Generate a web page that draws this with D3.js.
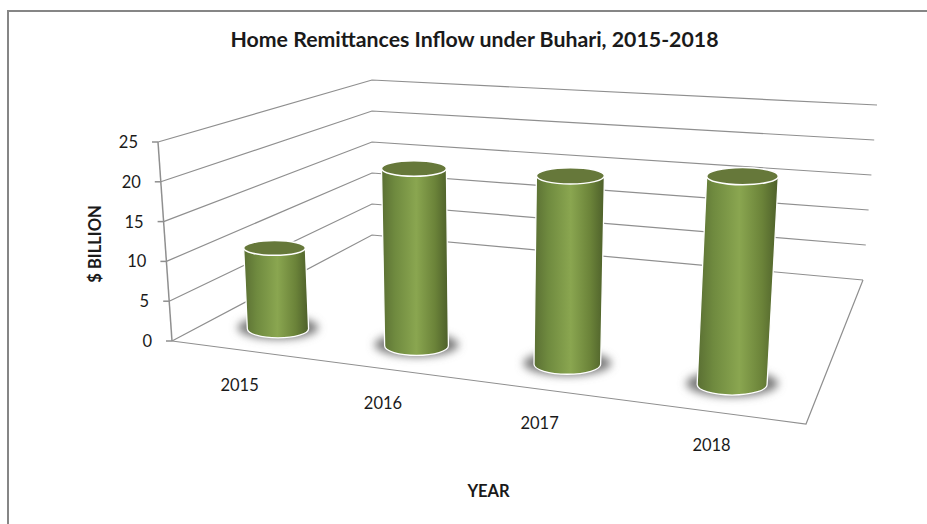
<!DOCTYPE html>
<html><head><meta charset="utf-8">
<script src="https://cdnjs.cloudflare.com/ajax/libs/d3/7.8.5/d3.min.js"></script>
<style>html,body{margin:0;padding:0;background:#fff}svg{display:block}text{font-family:Lato,"Open Sans",sans-serif;fill:#1a1a1a}</style>
</head><body><svg id="c" width="927" height="524"></svg>
<script>
const years=["2015","2016","2017","2018"];
const remittances=[10.4,22,22.5,23.9];
const yTicks=[0,5,10,15,20,25];
const titleText="Home Remittances Inflow under Buhari, 2015-2018";
const xTitle="YEAR", yTitle="$ BILLION";

// camera: the box's corners on screen [front-left, front-right, back-right, back-left]
const floorQuad=[[172,341],[806,424],[863,280],[372,235]];
const ceilQuad=[[158,142],[821,190],[877,105],[372,80]];
function homography(q){
  const [[x0,y0],[x1,y1],[x2,y2],[x3,y3]]=q;
  const dx1=x1-x2,dx2=x3-x2,sx=x0-x1+x2-x3,dy1=y1-y2,dy2=y3-y2,sy=y0-y1+y2-y3;
  const den=dx1*dy2-dx2*dy1,g=(sx*dy2-dx2*sy)/den,h=(dx1*sy-sx*dy1)/den;
  const a=x1-x0+g*x1,b=x3-x0+h*x3,d=y1-y0+g*y1,e=y3-y0+h*y3;
  return (u,v)=>{const w=g*u+h*v+1;return [(a*u+b*v+x0)/w,(d*u+e*v+y0)/w];};
}
const Hf=homography(floorQuad),Hc=homography(ceilQuad);
const level=d3.scaleLinear().domain([0,25]).range([0,1]);
const P=(u,v,val)=>d3.interpolateArray(Hf(u,v),Hc(u,v))(level(val));

const uScale=d3.scaleBand().domain(years).range([0.004,1.004]);
const uLabel=d3.scaleBand().domain(years).range([0.0603,1.0097]);
const labelDrop=d3.scaleLinear().domain([0,1]).range([20,12.5]);
const uc=y=>uScale(y)+uScale.bandwidth()/2;
const ul=y=>uLabel(y)+uLabel.bandwidth()/2;
const barDepth=0.155,barR=0.05,labelDepth=-0.12;

const svg=d3.select("#c");
const defs=svg.append("defs");
const grad=defs.append("linearGradient").attr("id","cyl").attr("x1",0).attr("x2",1).attr("y1",0).attr("y2",0);
[[0,"#5a6f33"],[0.2,"#6f8a3f"],[0.52,"#8aa650"],[0.8,"#6b8339"],[1,"#4d5f2a"]].forEach(([o,c])=>grad.append("stop").attr("offset",o).attr("stop-color",c));
defs.append("filter").attr("id","soft").attr("x","-30%").attr("y","-60%").attr("width","160%").attr("height","220%")
  .append("feGaussianBlur").attr("stdDeviation",4);

// chart frame
svg.append("path").attr("d","M8,524V11H927").attr("fill","none").attr("stroke","#868686").attr("stroke-width",2);

const line=d3.line();
const grid=svg.append("g").attr("fill","none").attr("stroke","#8f8f8f").attr("stroke-width",1.2);
grid.selectAll("path.g").data(yTicks).join("path").attr("class","g")
  .attr("d",t=>line([P(0,0,t),P(0,1,t),P(1,1,t)]));
grid.append("path").attr("d",line([P(0,0,0),P(0,0,25)])).attr("stroke-width",1.5);
grid.append("path").attr("d",line([P(0,0,0),P(1,0,0),P(1,1,0)]));
grid.selectAll("path.t").data(yTicks).join("path").attr("class","t")
  .attr("d",t=>{const p=P(0,0,t);return line([[p[0]-6,p[1]],p]);}).attr("stroke-width",1.5);

svg.append("g").selectAll("text").data(yTicks).join("text")
  .attr("x",t=>P(0,0,t)[0]-20).attr("y",t=>P(0,0,t)[1]+6)
  .attr("text-anchor","end").attr("font-size",16.5).text(d=>d);

const soften=r=>0.55*r+16;
const bars=svg.append("g").selectAll("g").data(years.map((y,i)=>({y,v:remittances[i]}))).join("g");
function geom(d){
  const u=uc(d.y);
  const b=P(u,barDepth,0),t=P(u,barDepth,d.v);
  const rb=soften(Math.abs(P(u+barR,barDepth,0)[0]-P(u-barR,barDepth,0)[0])/2);
  const rt=soften(Math.abs(P(u+barR,barDepth,d.v)[0]-P(u-barR,barDepth,d.v)[0])/2);
  return {b,t,rb,rt,ryb:rb*0.3,ryt:rt*0.24};
}
bars.append("ellipse").attr("filter","url(#soft)").attr("fill","#7a7a7a")
  .attr("cx",d=>geom(d).b[0]).attr("cy",d=>geom(d).b[1]-1)
  .attr("rx",d=>geom(d).rb*1.32).attr("ry",d=>geom(d).ryb*1.25);
bars.append("path").attr("fill","url(#cyl)").attr("stroke","#fff").attr("stroke-width",1.3)
  .attr("d",d=>{const g=geom(d);
    return `M${g.t[0]-g.rt},${g.t[1]}L${g.t[0]+g.rt},${g.t[1]}L${g.b[0]+g.rb},${g.b[1]}A${g.rb},${g.ryb} 0 0 1 ${g.b[0]-g.rb},${g.b[1]}Z`;});
bars.append("ellipse").attr("fill","#66783a").attr("stroke","#fff").attr("stroke-width",1.5)
  .attr("cx",d=>geom(d).t[0]).attr("cy",d=>geom(d).t[1])
  .attr("rx",d=>geom(d).rt).attr("ry",d=>geom(d).ryt);

svg.append("g").selectAll("text").data(years).join("text")
  .attr("x",y=>P(ul(y),labelDepth,0)[0]).attr("y",y=>P(ul(y),labelDepth,0)[1]+labelDrop(uScale(y)+uScale.bandwidth()/2))
  .attr("text-anchor","middle").attr("font-size",16.5).text(d=>d);

svg.append("text").attr("x",474.5).attr("y",47).attr("text-anchor","middle").attr("font-size",21.3).attr("font-weight",700).attr("fill","#111").text(titleText);
svg.append("text").attr("x",488.5).attr("y",497).attr("text-anchor","middle").attr("font-size",16.5).attr("font-weight",700).text(xTitle);
svg.append("text").attr("transform","translate(101,244) rotate(-90)").attr("text-anchor","middle").attr("font-size",16.5).attr("font-weight",700).text(yTitle);
</script></body></html>
